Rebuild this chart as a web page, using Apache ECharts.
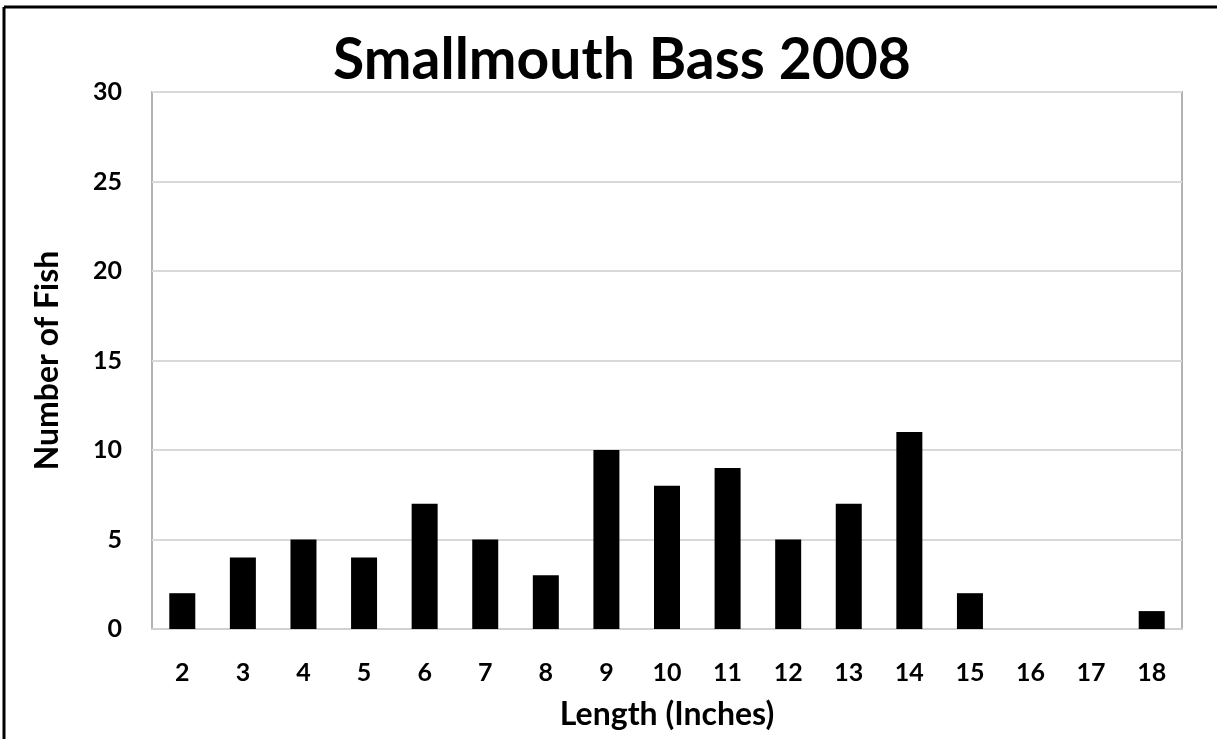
<!DOCTYPE html>
<html>
<head>
<meta charset="utf-8">
<script src="https://cdn.jsdelivr.net/npm/echarts@6/dist/echarts.min.js"></script>
<style>
  html, body { margin: 0; padding: 0; background: #fff; overflow: hidden; }
  #chart { width: 1217px; height: 739px; }
</style>
</head>
<body>
<div id="chart"></div>
<script>
// Length classes (inches) and fish counts per class
const lengths = ['2', '3', '4', '5', '6', '7', '8', '9', '10', '11', '12', '13', '14', '15', '16', '17', '18'];
const fishCounts = [2, 4, 5, 4, 7, 5, 3, 10, 8, 9, 5, 7, 11, 2, 0, 0, 1];
const yTicks = [0, 5, 10, 15, 20, 25, 30];

const FONT = 'Lato, "Open Sans", sans-serif';

const chart = echarts.init(document.getElementById('chart'), null, { renderer: 'canvas', width: 1217, height: 739 });

chart.setOption({
  backgroundColor: '#ffffff',
  animation: false,
  title: {
    text: 'Smallmouth Bass 2008',
    left: 617,
    textAlign: 'center',
    top: 27,
    textStyle: { fontFamily: FONT, fontWeight: 'bold', fontSize: 57, color: '#000' }
  },
  graphic: [
    // frame edges along the top and left
    { type: 'line', shape: { x1: 4, y1: 7, x2: 1217, y2: 7 }, style: { stroke: '#000', lineWidth: 3 } },
    { type: 'line', shape: { x1: 4, y1: 7, x2: 4, y2: 739 }, style: { stroke: '#000', lineWidth: 3 } }
  ],
  grid: {
    left: 152, right: 35, top: 92, bottom: 110,
    show: true, borderColor: '#b3b3b3', borderWidth: 2,
    containLabel: false, outerBoundsMode: 'none'
  },
  xAxis: {
    type: 'category',
    data: lengths,
    name: 'Length (Inches)',
    nameLocation: 'middle',
    nameGap: 70,
    nameTextStyle: { fontFamily: FONT, fontWeight: 'bold', fontSize: 32, color: '#000' },
    axisLine: { show: true, lineStyle: { color: '#d0d0d0', width: 2 } },
    axisTick: { show: false },
    axisLabel: { margin: 31, fontFamily: FONT, fontWeight: 'bold', fontSize: 25, color: '#000' }
  },
  yAxis: {
    type: 'value',
    min: yTicks[0],
    max: yTicks[yTicks.length - 1],
    interval: 5,
    name: 'Number of Fish',
    nameLocation: 'middle',
    nameGap: 88,
    nameTextStyle: { fontFamily: FONT, fontWeight: 'bold', fontSize: 32, color: '#000' },
    axisLine: { show: false },
    axisTick: { show: false },
    splitLine: { lineStyle: { color: '#d9d9d9', width: 2 } },
    axisLabel: { margin: 30, fontFamily: FONT, fontWeight: 'bold', fontSize: 25, color: '#000' }
  },
  series: [{
    type: 'bar',
    data: fishCounts,
    barWidth: 26,
    itemStyle: { color: '#000' }
  }]
});
</script>
</body>
</html>
